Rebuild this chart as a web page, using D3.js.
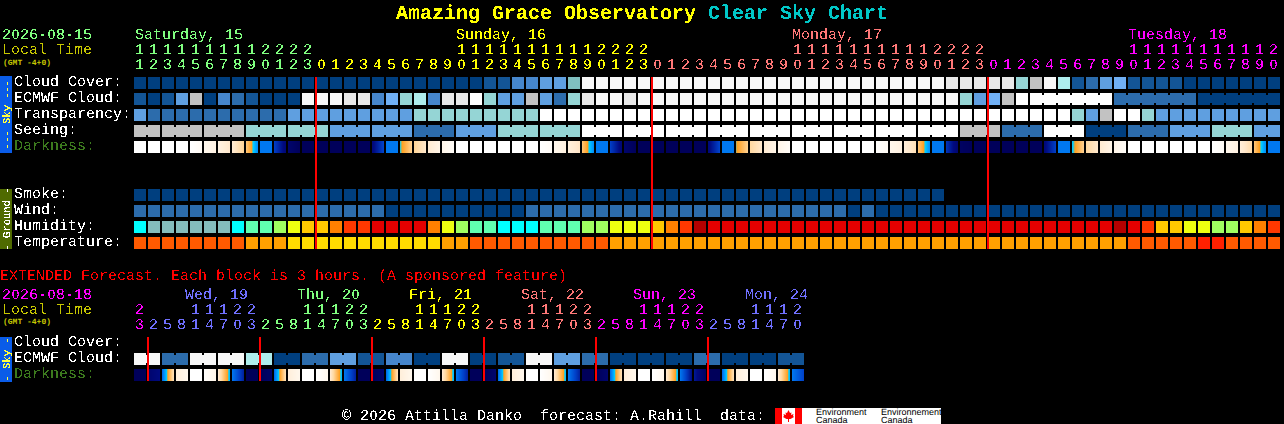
<!DOCTYPE html>
<html><head><meta charset="utf-8">
<script src="https://cdn.jsdelivr.net/npm/d3@7"></script>
<style>
html,body{margin:0;padding:0;background:#000;overflow:hidden}
svg{display:block}
text{font-family:"Liberation Mono",monospace;font-size:15px;white-space:pre;text-rendering:geometricPrecision}
</style></head><body>
<svg id="chart" width="1284" height="424" xmlns="http://www.w3.org/2000/svg"></svg>
<script>
// ---------- data ----------
const titleName = "Amazing Grace Observatory";
const titleKind = "Clear Sky Chart";
const rowLabels = ["Cloud Cover:", "ECMWF Cloud:", "Transparency:", "Seeing:", "Darkness:"];
const groundLabels = ["Smoke:", "Wind:", "Humidity:", "Temperature:"];
const extLabels = ["Cloud Cover:", "ECMWF Cloud:", "Darkness:"];
const dayNames = ["Saturday, 15", "Sunday, 16", "Monday, 17", "Tuesday, 18"];
const dayLabelCols = [0, 23, 47, 71];
const extDayNames = ["Wed, 19", "Thu, 20", "Fri, 21", "Sat, 22", "Sun, 23", "Mon, 24"];
const extDayLabelCols = [4, 12, 20, 28, 36, 44];

const hours = [11,12,13,14,15,16,17,18,19,20,21,22,23,
 0,1,2,3,4,5,6,7,8,9,10,11,12,13,14,15,16,17,18,19,20,21,22,23,
 0,1,2,3,4,5,6,7,8,9,10,11,12,13,14,15,16,17,18,19,20,21,22,23,
 0,1,2,3,4,5,6,7,8,9,10,11,12,13,14,15,16,17,18,19,20];
const extHours = [23,
 2,5,8,11,14,17,20,23, 2,5,8,11,14,17,20,23, 2,5,8,11,14,17,20,23,
 2,5,8,11,14,17,20,23, 2,5,8,11,14,17,20,23, 2,5,8,11,14,17,20];

const cloudCover = [0,0,0,0,0,0,0,0,0,0,0,0,0,0,0,0,0,0,0,0,0,0,0,0,0,
 1,1,3,3,4,4,6,
 11,11,11,11,11,11,11,11,11,11,11,11,11,11,11,11,11,11,11,11,11,11,11,11,11,11,
 10,10,10,10,10,7,9,11,8,1,2,4,5,1,1,1,1,0,0,0,0,0,0,0];
const ecmwfCloud = [1,0,1,4,9,0,3,2,1,0,0,0,11,11,11,10,10,3,5,7,8,3,10,10,12,7,4,4,9,4,2,7,
 10,11,11,10,11,11,11,11,11,11,11,11,11,11,11,11,11,11,11,11,11,11,11,11,11,11,11,
 7,4,5,9,12,12,12,12,12,12,12,2,2,2,2,2,2,0,0,0,0,0,0];
const ecmwfGroups = [64,6,6,6];
const transparency = [4,2,2,2,2,2,2,2,2,2,2,4,4,4,4,4,4,4,4,4,7,7,7,7,7,7,7,7,7,
 12,12,12,12,12,12,12,12,12,12,12,12,12,12,12,12,12,12,12,12,12,12,12,12,12,12,12,12,12,12,12,12,12,12,12,12,12,12,
 7,4,9,12,12,7,4,4,4,4,4,4,4,4,4];
const seeing = [9,9, 9,9,9, 9,9,9, 7,7,7, 7,7,7, 4,4,4, 4,4,4, 2,2,2, 4,4,4, 7,7,7, 7,7,7,
 12,12,12, 12,12,12, 12,12,12, 12,12,12, 12,12,12, 12,12,12, 12,12,12, 12,12,12, 12,12,12,
 9,9,9, 2,2,2, 12,12,12, 0,0,0, 2,2,2, 4,4,4, 7,7,7, 4,4];
const seeingGroups = [2,3,3,3,3,3,3,3,3,3,3,3,3,3,3,3,3,3,3,3,3,3,3,3,3,3,3,2];
const darknessLeft = [0,0,0,0,0,.8,1.2,1.8,3.6,7,8,9.5,10,10,10,10,10,9.2,7,5.4,3.2,1.8,1,
 0,0,0,0,0,0,0,.8,1.4,3.6,7,8,9.5,10,10,10,10,10,9.2,7,5.2,3,1.8,1,
 0,0,0,0,0,0,.1,.8,1.5,3.6,7,8.2,9.8,10,10,10,10,10,9.2,7,5.6,3,1.8,1,
 0,0,0,0,0,0,0,.8,1.5,3.6,7];
const darknessRight = [0,0,0,0,.5,1.2,2,3.2,6.6,7,9.3,10,10,10,10,10,10,7.9,7,3.2,2,1,.3,
 0,0,0,0,0,0,.4,1.3,2.2,6.6,7,9.3,10,10,10,10,10,10,7.9,7,3.2,2,1,.3,
 0,0,0,0,0,0,.5,1.3,2.5,6.6,7,9.5,10,10,10,10,10,10,8,7,3.2,2,1,.3,
 0,0,0,0,0,0,.4,1.3,2.8,6.6,7];
const smoke = [0,0,0,0,0,0,0,0,0,0,0,0,0,0,0,0,0,0,0,0,0,0,0,0,0,0,0,0,0,0,0,0,0,0,0,0,0,0,0,0,0,0,0,0,0,0,0,0,0,0,0,0,0,0,0,0,0,0];
const wind = [2,2,2,2,2,2,2,2,2,2,2,2,2,2,2,2,2,2,
 0,0,0,0,0,0,0,0,0,0,
 2,2,2,2,2,2,2,2,2,2, 2,2,2,2,2,2,2,2,2,2, 2,2,2,
 0,2,
 0,0,0,0,0,0,0,0,0,0, 0,0,0,0,0,0,0,0,0,0, 0,0,0,0,0,0,0,0,0];
const humidity = [0,1,1,1,1,1,1,0,2,2,3,4,5,5,6,7,7,8,8,8,8,6,4,3,2,2,0,0,0,2,2,2,3,3,4,4,4,5,6,7,9,
 8,8,8,8,8,8,8,8,8,8,8,8,8,8,8,8,8,8,8,8,8,8,8,8,8,8,8,8,8,9,8,7,5,5,4,4,3,3,5,6,7];
const temperature = [1,1,1,1,1,1,1,1,2,2,2,3,3,3,3,3,3,3,3,3,3,3,2,2,
 1,1,1,1,1,1,1,1,1,1,
 2,2,2,2,2,2,2,2,2,2, 2,2,2,2,2,2,2,2,2,2, 2,2,2,2,2,2,2,2,2,2, 2,2,2,2,2,2,2,
 1,1,1,1,1,0,0,1,1,1,1];

const extEcmwf = [11,11,2,2,11,11,11,11,8,8,0,0,2,2,4,4,1,1,3,3,0,0,11,11,0,0,1,1,11,11,4,4,2,2,0,0,0,0,0,0,2,2,0,0,0,0,1,1];
const extDarkLeft = [10,9.5,7.4,1.5,0,.2,1.8,7,10,10,7.4,1.5,0,0,1.8,7,10,10,7.4,1.5,0,0,1.8,7,10,10,7.4,1.5,0,0,1.8,7,10,10,7.4,1.5,0,0,1.8,7,8.7,10,7.4,1.5,0,0,1.8,7];
const extDarkRight = [10,9,2.4,.8,0,1,5.8,8.6,10,9.6,2.4,.8,0,.8,5.8,8.6,10,9.5,2.4,.8,0,.8,5.8,8.6,10,9.5,2.4,.8,0,.8,5.8,8.6,10,9.5,2.4,.8,0,.8,5.8,9,9.8,10,2.4,.8,0,.8,5.8,8];

const midnightCols = [13, 37, 61];
const extMidnightCols = [1, 9, 17, 25, 33, 41];

// ---------- colours ----------
const skyPalette = ["#003f7f","#135596","#2c6cac","#4686cc","#5f9fe0","#70b0f5","#80c0c0","#95d5d5","#aeeded","#c2c2c2","#e8e8e8","#f8f8f8","#ffffff"];
const humidityPalette = ["#00ffff","#84bdbd","#60ffb0","#a0ff60","#eeff10","#ffc800","#ff8000","#ff3800","#e40000","#b40000"];
const tempPalette = ["#ff2000","#ff5a00","#ffa000","#ffdc00"];
const dayColours = ["#80ff80","#ffff00","#ff7878","#ff00ff","#7070ff"];
const extDayColours = ["#ff00ff","#7070ff","#80ff80","#ffff00","#ff7878","#ff00ff","#7070ff"];
const darkColour = d3.scaleLinear()
  .domain([0,1,2,3,4,5,5.4,6,7,8,9,10])
  .range(["#ffffff","#fff5e8","#ffe8cc","#ffd8a0","#ffbb60","#ffa020","#00d0ff","#00a8ff","#0078f0","#0040c8","#000a80","#00005a"]);

// ---------- scales ----------
const cellW = 12, cellH = 12, charW = 9;
const xCol = d3.scaleLinear().domain([0, 1]).range([134, 148]);
const ySky = d3.scaleLinear().domain([0, 1]).range([77, 93]);
const yGround = d3.scaleLinear().domain([0, 1]).range([189, 205]);
const yExt = d3.scaleLinear().domain([0, 1]).range([337, 353]);

const svg = d3.select("#chart");
svg.append("rect").attr("width",1284).attr("height",424).attr("fill","#000");

const defs = svg.append("defs");
function thresholdFilter(id, table) {
  const f = defs.append("filter").attr("id",id)
    .attr("filterUnits","userSpaceOnUse").attr("x",0).attr("y",0).attr("width",1284).attr("height",424)
    .attr("color-interpolation-filters","sRGB");
  f.append("feComponentTransfer").append("feFuncA").attr("type","discrete").attr("tableValues",table);
}
thresholdFilter("pix", "0 0 1 1");
thresholdFilter("pixLow", "0 1 1");

const marks = svg.append("g").attr("shape-rendering","crispEdges");
const texts = svg.append("g").attr("filter","url(#pix)");
const plainTexts = svg.append("g");
const sideTexts = svg.append("g").attr("filter","url(#pixLow)");

// real text, with plain zeros: the reference font has no dot inside its 0
function label(str, x, y, fill) {
  const t = texts.append("text").attr("y",y).attr("fill",fill);
  const runs = str.match(/0+|[^0]+/g) || [];
  let pos = 0;
  runs.forEach(run => {
    const zero = run[0] === "0";
    const s = t.append("tspan").text(run);
    if (zero) {
      s.attr("x", d3.range(run.length).map(k => x + (pos + k) * charW + 0.8).join(" "))
       .style("font-family", "'Liberation Sans',sans-serif").style("font-size","13.5px");
    } else {
      s.attr("x", x + pos * charW);
    }
    pos += run.length;
  });
  return t;
}

function drawBlocks(values, y, palette, groups) {
  marks.append("g").selectAll("rect").data(values).join("rect")
    .attr("x",(d,i)=>xCol(i)).attr("y",y).attr("width",cellW).attr("height",cellH)
    .attr("fill",d=>palette[d]);
  if (groups) {
    let start = 0; const joins = [];
    groups.forEach(g => {
      if (g > 1 && g < 20) for (let k = start; k < start + g - 1; k++) joins.push(k);
      start += g;
    });
    marks.append("g").selectAll("rect").data(joins).join("rect")
      .attr("x",k=>xCol(k)+cellW).attr("y",y+2).attr("width",xCol(1)-xCol(0)-cellW).attr("height",cellH-4)
      .attr("fill",k=>palette[values[k]]);
  }
}

function drawDarkness(left, right, y) {
  const g = marks.append("g");
  const strip = d3.range(cellW);
  left.forEach((l,i) => {
    g.append("g").selectAll("rect").data(strip).join("rect")
      .attr("x",k=>xCol(i)+k).attr("y",y).attr("width",1).attr("height",cellH)
      .attr("fill",k=>darkColour(l+(right[i]-l)*(k+0.5)/cellW));
  });
}

function drawHours(list, colourOf, yTens, yUnits) {
  list.forEach((h,i) => {
    const c = colourOf(i);
    if (h >= 10) label(String(Math.floor(h/10)), xCol(i)+1, yTens, c);
    label(String(h%10), xCol(i)+1, yUnits, c);
  });
}

function dayIndex(list) {
  let d = 0; return list.map((h,i) => { if (i>0 && h<list[i-1]) d++; return d; });
}

function smallNote(y) {
  plainTexts.append("text").attr("x",3).attr("y",y).attr("fill","#c8c800")
    .style("font-size","8px").style("font-weight","bold").text("(GMT -4+0)");
}

// title
const title = texts.append("text").attr("x",396).attr("y",19)
  .style("font-size","20px").style("font-weight","bold");
title.append("tspan").attr("fill","#ffff00").text(titleName+" ");
title.append("tspan").attr("fill","#00c8c8").text(titleKind);

// main header
label("2026-08-15", 2, 39, "#80ff80");
label("Local Time", 2, 54, "#c8c800");
smallNote(65);
dayNames.forEach((n,i)=>label(n, xCol(dayLabelCols[i]) + (i===0?1:0), 39, dayColours[i]));
const dayOf = dayIndex(hours);
drawHours(hours, i=>dayColours[dayOf[i]], 54, 69);

// sky rows
[cloudCover, ecmwfCloud, transparency].forEach((v,r)=>{
  drawBlocks(v, ySky(r), skyPalette, r===1?ecmwfGroups:null);
});
drawBlocks(seeing, ySky(3), skyPalette, seeingGroups);
drawDarkness(darknessLeft, darknessRight, ySky(4));
rowLabels.forEach((t,r)=>label(t, 14, ySky(r)+9, r===4?"#3c7a1e":"#ffffff"));

// ground rows
drawBlocks(smoke, yGround(0), skyPalette);
drawBlocks(wind, yGround(1), skyPalette);
drawBlocks(humidity, yGround(2), humidityPalette);
drawBlocks(temperature, yGround(3), tempPalette);
groundLabels.forEach((t,r)=>label(t, 14, yGround(r)+9, "#ffffff"));

// side bars
function sideBar(y0, y1, fill, txt, colour) {
  marks.append("rect").attr("x",0).attr("y",y0).attr("width",12).attr("height",y1-y0).attr("fill",fill);
  const cy=(y0+y1)/2;
  sideTexts.append("text").attr("fill",colour).attr("text-anchor","middle")
    .attr("transform",`translate(9.5,${cy}) rotate(-90)`).style("font-size","10.5px").text(txt);
}
sideBar(76, 153, "#0a5ce8", "--- Sky ---", "#ffff40");
sideBar(189, 249, "#4f6a00", "- Ground -", "#ffffff");
sideBar(337, 382, "#0a5ce8", "- Sky -", "#ffff40");

// midnight lines
midnightCols.forEach(c=>marks.append("rect").attr("x",xCol(c)-1).attr("y",77).attr("width",2).attr("height",172).attr("fill","#ff0000"));

// extended
label("EXTENDED Forecast. Each block is 3 hours. (A sponsored feature)", 0, 280, "#ff0000");
label("2026-08-18", 2, 299, "#ff00ff");
label("Local Time", 2, 314, "#c8c800");
smallNote(324);
extDayNames.forEach((n,i)=>label(n, xCol(extDayLabelCols[i])-5, 299, extDayColours[i+1]));
const extDayOf = dayIndex(extHours);
drawHours(extHours, i=>extDayColours[extDayOf[i]], 314, 329);
drawBlocks(extEcmwf, yExt(1), skyPalette, d3.range(24).map(()=>2));
drawDarkness(extDarkLeft, extDarkRight, yExt(2));
extLabels.forEach((t,r)=>label(t, 14, yExt(r)+9, r===2?"#3c7a1e":"#ffffff"));
extMidnightCols.forEach(c=>marks.append("rect").attr("x",xCol(c)-1).attr("y",337).attr("width",2).attr("height",44).attr("fill","#ff0000"));

// footer
label("\u00a9 2026 Attilla Danko  forecast: A.Rahill  data:", 342, 420, "#ffffff");
marks.append("rect").attr("x",775).attr("y",408).attr("width",166).attr("height",16).attr("fill","#fff");
marks.append("rect").attr("x",775).attr("y",408).attr("width",7).attr("height",16).attr("fill","#ff0000");
marks.append("rect").attr("x",795).attr("y",408).attr("width",7).attr("height",16).attr("fill","#ff0000");
svg.append("path").attr("transform","translate(788.5,416)").attr("fill","#ff0000")
  .attr("d","M0,-6 L1.5,-3 L3,-3.5 L2.5,-1 L5,-2 L4.5,0 L5.5,1 L2,3 L.5,3 L.5,6 L-.5,6 L-.5,3 L-2,3 L-5.5,1 L-4.5,0 L-5,-2 L-2.5,-1 L-3,-3.5 L-1.5,-3 Z");
const small = svg.append("g");
[["Environment",816,415],["Canada",816,423],["Environnement",881,415],["Canada",881,423]].forEach(r=>{
  small.append("text").attr("x",r[1]).attr("y",r[2]).attr("fill","#000")
    .style("font-family","'Liberation Sans',sans-serif").style("font-size","9px").text(r[0]);
});
</script>
</body></html>
